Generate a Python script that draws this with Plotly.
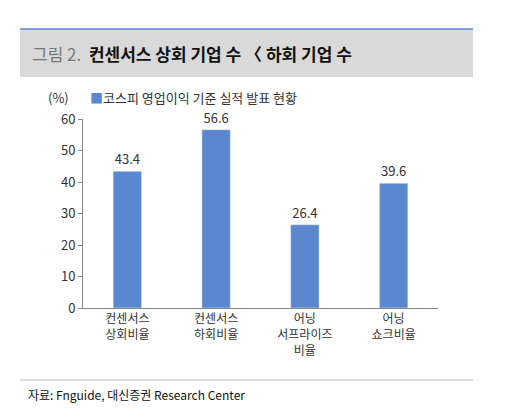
import plotly.graph_objects as go

categories = ["컨센서스<br>상회비율", "컨센서스<br>하회비율", "어닝<br>서프라이즈<br>비율", "어닝<br>쇼크비율"]
values = [43.4, 56.6, 26.4, 39.6]
series_name = "코스피 영업이익 기준 실적 발표 현황"

W, H = 519, 414
F = "Noto Sans CJK KR"
fig = go.Figure(go.Bar(x=categories, y=values, marker_color="#5b87cf", width=0.32,
                       text=[f"{v:.1f}" for v in values], textposition="outside",
                       textfont=dict(size=13, color="#333"), cliponaxis=False))
fig.update_layout(
    width=W, height=H, margin=dict(l=0, r=0, t=0, b=0), plot_bgcolor="white", paper_bgcolor="white",
    showlegend=False, font=dict(family=F, color="#333"), bargap=0.5,
    xaxis=dict(domain=[75/W, 430/W], showline=True, linecolor="#888", ticks="outside", ticklen=0,
               automargin=False, tickfont=dict(size=12, color="#333")),
    yaxis=dict(domain=[1-300/H, 1-111/H], range=[0, 60], dtick=10, showgrid=False, showline=True,
               automargin=False, linecolor="#888", ticks="outside", ticklen=4, tickcolor="#888",
               tickfont=dict(size=13, color="#333")),
    shapes=[
        dict(type="rect", xref="paper", yref="paper", x0=12/W, x1=465/W, y0=1-69/H, y1=1-21/H,
             fillcolor="#d9d9d9", line_width=0, layer="below"),
        dict(type="line", xref="paper", yref="paper", x0=12/W, x1=465/W, y0=1-21/H, y1=1-21/H,
             line=dict(color="#5b87cf", width=1.5)),
        dict(type="line", xref="paper", yref="paper", x0=12/W, x1=465/W, y0=1-372/H, y1=1-372/H,
             line=dict(color="#bbbbbb", width=1)),
    ],
    annotations=[
        dict(xref="paper", yref="paper", x=22/W, y=1-45/H, xanchor="left", yanchor="middle", showarrow=False,
             text="<span style='color:#777'>그림 2.</span>  <b>컨센서스 상회 기업 수 〈 하회 기업 수</b>",
             font=dict(size=17, color="#111")),
        dict(xref="paper", yref="paper", x=38/W, y=1-89/H, xanchor="left", yanchor="middle", showarrow=False,
             text="(%)", font=dict(size=13, color="#333")),
        dict(xref="paper", yref="paper", x=80/W, y=1-89/H, xanchor="left", yanchor="middle", showarrow=False,
             text="<span style='color:#5b87cf'>■</span>" + series_name, font=dict(size=13, color="#333")),
        dict(xref="paper", yref="paper", x=18/W, y=1-386/H, xanchor="left", yanchor="middle", showarrow=False,
             text="자료: Fnguide, 대신증권 Research Center", font=dict(size=12, color="#111")),
    ],
)
fig.write_html("out.html")
